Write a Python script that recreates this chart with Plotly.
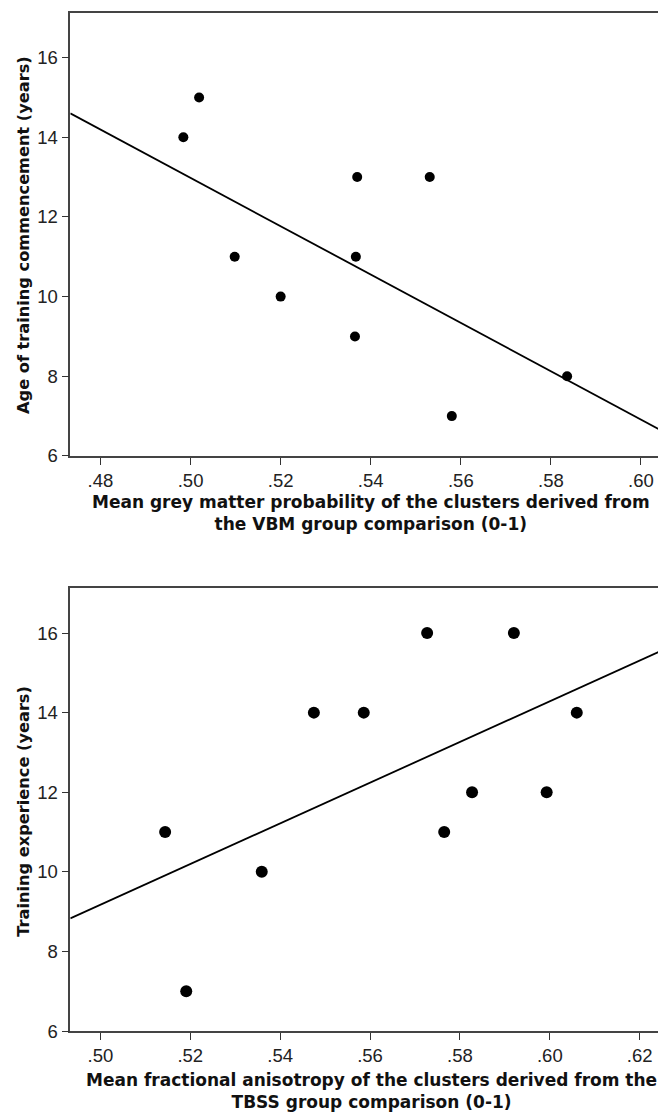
import plotly.graph_objects as go

# ---- Top panel data (VBM) ----
vbm_gm = [0.4984, 0.5019, 0.5098, 0.5200, 0.5370, 0.5367, 0.5365, 0.5531, 0.5580, 0.5836]
age_start = [14, 15, 11, 10, 13, 11, 9, 13, 7, 8]
vbm_fit_x = [0.4733, 0.6060]
vbm_fit_y = [14.60, 6.55]
vbm_xticks = [0.48, 0.50, 0.52, 0.54, 0.56, 0.58, 0.60]
vbm_xticktext = [".48", ".50", ".52", ".54", ".56", ".58", ".60"]

# ---- Bottom panel data (TBSS) ----
tbss_fa = [0.5144, 0.5191, 0.5359, 0.5475, 0.5586, 0.5727, 0.5765, 0.5827, 0.5920, 0.5993, 0.6060]
train_exp = [11, 7, 10, 14, 14, 16, 11, 12, 16, 12, 14]
tbss_fit_x = [0.4933, 0.6263]
tbss_fit_y = [8.83, 15.63]
tbss_xticks = [0.50, 0.52, 0.54, 0.56, 0.58, 0.60, 0.62]
tbss_xticktext = [".50", ".52", ".54", ".56", ".58", ".60", ".62"]

yticks = [6, 8, 10, 12, 14, 16]

W, H = 666, 1116

fig = go.Figure()
fig.add_trace(go.Scatter(x=vbm_fit_x, y=vbm_fit_y, mode="lines",
                         line=dict(color="black", width=1.8), xaxis="x", yaxis="y",
                         showlegend=False, hoverinfo="skip"))
fig.add_trace(go.Scatter(x=vbm_gm, y=age_start, mode="markers",
                         marker=dict(color="black", size=10), xaxis="x", yaxis="y",
                         showlegend=False))
fig.add_trace(go.Scatter(x=tbss_fit_x, y=tbss_fit_y, mode="lines",
                         line=dict(color="black", width=1.8), xaxis="x2", yaxis="y2",
                         showlegend=False, hoverinfo="skip"))
fig.add_trace(go.Scatter(x=tbss_fa, y=train_exp, mode="markers",
                         marker=dict(color="black", size=12), xaxis="x2", yaxis="y2",
                         showlegend=False))

tickfont = dict(family="Liberation Sans", size=18.5, color="#222")
axis_common = dict(showline=True, linecolor="#444", linewidth=1.6, mirror=True,
                   ticks="outside", ticklen=7, tickwidth=1.3, tickcolor="#333",
                   showgrid=False, zeroline=False, tickfont=tickfont)

xd = [62.3 / W, 660 / W]
fig.update_layout(
    width=W, height=H,
    margin=dict(l=0, r=0, t=0, b=0),
    paper_bgcolor="white", plot_bgcolor="white",
    xaxis=dict(domain=xd, range=[vbm_fit_x[0], vbm_fit_x[1]], anchor="y",
               tickvals=vbm_xticks, ticktext=vbm_xticktext, **axis_common),
    yaxis=dict(domain=[(H - 452) / H, (H - 5) / H], range=[6, 17.12], anchor="x",
               tickvals=yticks, **axis_common),
    xaxis2=dict(domain=xd, range=[tbss_fit_x[0], tbss_fit_x[1]], anchor="y2",
                tickvals=tbss_xticks, ticktext=tbss_xticktext, **axis_common),
    yaxis2=dict(domain=[(H - 1032.3) / H, (H - 585.7) / H], range=[6, 17.12], anchor="x2",
                tickvals=yticks, **axis_common),
)

xtitlefont = dict(family="DejaVu Sans", size=17, color="#111", weight="bold")
ytitlefont = dict(family="DejaVu Sans", size=16.2, color="#111", weight="bold")
ann = [
    dict(text="Mean grey matter probability of the clusters derived from<br>the VBM group comparison (0-1)",
         x=363 / W, y=(H - 510) / H, textangle=0, font=xtitlefont),
    dict(text="Age of training commencement (years)",
         x=16 / W, y=(H - 229) / H, textangle=-90, font=ytitlefont),
    dict(text="Mean fractional anisotropy of the clusters derived from the<br>TBSS group comparison (0-1)",
         x=363 / W, y=(H - 1093) / H, textangle=0, font=xtitlefont),
    dict(text="Training experience (years)",
         x=16 / W, y=(H - 811) / H, textangle=-90, font=ytitlefont),
]
for a in ann:
    fig.add_annotation(xref="paper", yref="paper", showarrow=False,
                       xanchor="center", yanchor="middle",
                       align="center", **a)

fig.write_html("out.html")
